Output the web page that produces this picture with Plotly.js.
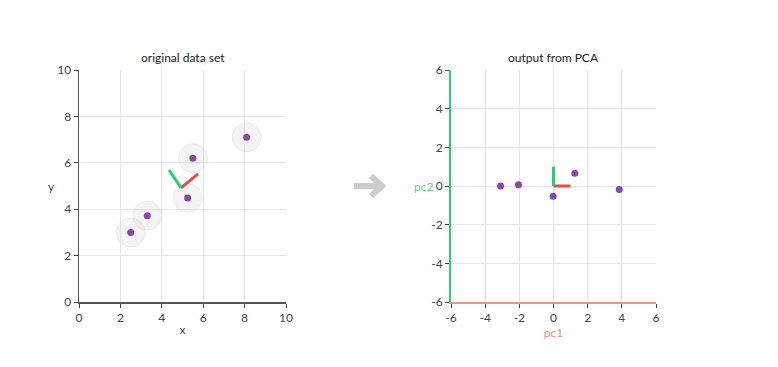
<!DOCTYPE html>
<html>
<head>
<meta charset="utf-8">
<script src="https://cdn.plot.ly/plotly-3.0.1.min.js"></script>
<style>html,body{margin:0;padding:0;background:#fff;}#chart{width:778px;height:367px;}</style>
</head>
<body>
<div id="chart"></div>
<script>
// Original data set
const origX = [2.5, 3.3, 5.25, 5.5, 8.1];
const origY = [3.0, 3.72, 4.48, 6.2, 7.1];
// Principal component vectors in original space (from mean)
const meanXY = [4.93, 4.92];
const pc1End = [5.75, 5.52];
const pc2End = [4.35, 5.69];
// PCA output
const pcaX = [-3.1, -2.05, -0.02, 1.25, 3.85];
const pcaY = [0.0, 0.07, -0.53, 0.66, -0.18];
const pcaOrigin = [0, 0];
const pcaPc1End = [1, 0];
const pcaPc2End = [0, 1];
// Tick values and labels
const origTicks = [0, 2, 4, 6, 8, 10];
const origTickText = ['0', '2', '4', '6', '8', '10'];
const pcaTicks = [-6, -4, -2, 0, 2, 4, 6];
const pcaTickText = ['-6', '-4', '-2', '0', '2', '4', '6'];

const purple = '#8e44ad';
const red = '#e74c3c';
const green = '#2ecc71';
const salmon = '#f4908a';
const font = {family: 'Lato, "Open Sans", sans-serif', size: 12, color: '#444'};

const traces = [
  {x: origX, y: origY, type: 'scatter', mode: 'markers', xaxis: 'x', yaxis: 'y',
   marker: {size: 29, color: 'rgba(200,200,200,0.2)', line: {color: 'rgba(200,200,200,0.25)', width: 1}}, hoverinfo: 'skip'},
  {x: [meanXY[0], pc1End[0]], y: [meanXY[1], pc1End[1]], type: 'scatter', mode: 'lines', xaxis: 'x', yaxis: 'y',
   line: {color: red, width: 3}},
  {x: [meanXY[0], pc2End[0]], y: [meanXY[1], pc2End[1]], type: 'scatter', mode: 'lines', xaxis: 'x', yaxis: 'y',
   line: {color: green, width: 3}},
  {x: origX, y: origY, type: 'scatter', mode: 'markers', xaxis: 'x', yaxis: 'y',
   marker: {size: 7, color: purple}},
  {x: [pcaOrigin[0], pcaPc1End[0]], y: [pcaOrigin[1], pcaPc1End[1]], type: 'scatter', mode: 'lines', xaxis: 'x2', yaxis: 'y2',
   line: {color: red, width: 3}},
  {x: [pcaOrigin[0], pcaPc2End[0]], y: [pcaOrigin[1], pcaPc2End[1]], type: 'scatter', mode: 'lines', xaxis: 'x2', yaxis: 'y2',
   line: {color: green, width: 3}},
  {x: pcaX, y: pcaY, type: 'scatter', mode: 'markers', xaxis: 'x2', yaxis: 'y2',
   marker: {size: 7, color: purple}}
];

const yTop = 1 - 70/367, yBot = 1 - 302/367;
const axBase = {showgrid: true, gridcolor: '#e6e6e6', gridwidth: 1, zeroline: false, showline: true,
  ticks: 'outside', ticklen: 4, tickcolor: '#444', tickfont: {family: font.family, size: 12, color: '#444'}, fixedrange: true};

const layout = {
  width: 778, height: 367,
  margin: {l: 0, r: 0, t: 0, b: 0},
  paper_bgcolor: '#fff', plot_bgcolor: '#fff',
  showlegend: false, font: font,
  xaxis: Object.assign({}, axBase, {domain: [79/778, 286/778], range: [0, 10], tickvals: origTicks, ticktext: origTickText,
    linecolor: '#555', linewidth: 1.5, anchor: 'y',
    title: {text: 'x', font: {family: font.family, size: 12, color: '#444'}, standoff: 1}}),
  yaxis: Object.assign({}, axBase, {domain: [yBot, yTop], range: [0, 10], tickvals: origTicks, ticktext: origTickText,
    linecolor: '#555', linewidth: 1.5, anchor: 'x'}),
  xaxis2: Object.assign({}, axBase, {domain: [451/778, 656/778], range: [-6, 6], tickvals: pcaTicks, ticktext: pcaTickText,
    linecolor: salmon, linewidth: 2, anchor: 'y2',
    title: {text: 'pc1', font: {family: font.family, size: 12, color: salmon}, standoff: 1}}),
  yaxis2: Object.assign({}, axBase, {domain: [yBot, yTop], range: [-6, 6], tickvals: pcaTicks, ticktext: pcaTickText,
    linecolor: green, linewidth: 2, anchor: 'x2'}),
  annotations: [
    {text: 'original data set', xref: 'x domain', yref: 'paper', x: 0.5, y: yTop, yanchor: 'bottom', yshift: 3,
     showarrow: false, font: {family: font.family, size: 12, color: '#222'}},
    {text: 'output from PCA', xref: 'x2 domain', yref: 'paper', x: 0.5, y: yTop, yanchor: 'bottom', yshift: 3,
     showarrow: false, font: {family: font.family, size: 12, color: '#222'}},
    {text: 'y', xref: 'paper', yref: 'y', x: 51/778, y: 5, xanchor: 'center', showarrow: false,
     font: {family: font.family, size: 12, color: '#444'}},
    {text: 'pc2', xref: 'paper', yref: 'y2', x: 424/778, y: 0, xanchor: 'center', showarrow: false,
     font: {family: font.family, size: 12, color: '#5fd08a'}}
  ],
  shapes: [
    {type: 'line', xref: 'paper', yref: 'paper', x0: 354/778, x1: 377/778, y0: 1-186/367, y1: 1-186/367,
     line: {color: '#cccccc', width: 6}},
    {type: 'path', xref: 'paper', yref: 'paper',
     path: 'M ' + (371/778) + ',' + (1-176/367) + ' L ' + (382/778) + ',' + (1-186/367) + ' L ' + (371/778) + ',' + (1-196/367),
     line: {color: '#cccccc', width: 6}}
  ]
};

Plotly.newPlot('chart', traces, layout, {displayModeBar: false, staticPlot: true});
</script>
</body>
</html>
